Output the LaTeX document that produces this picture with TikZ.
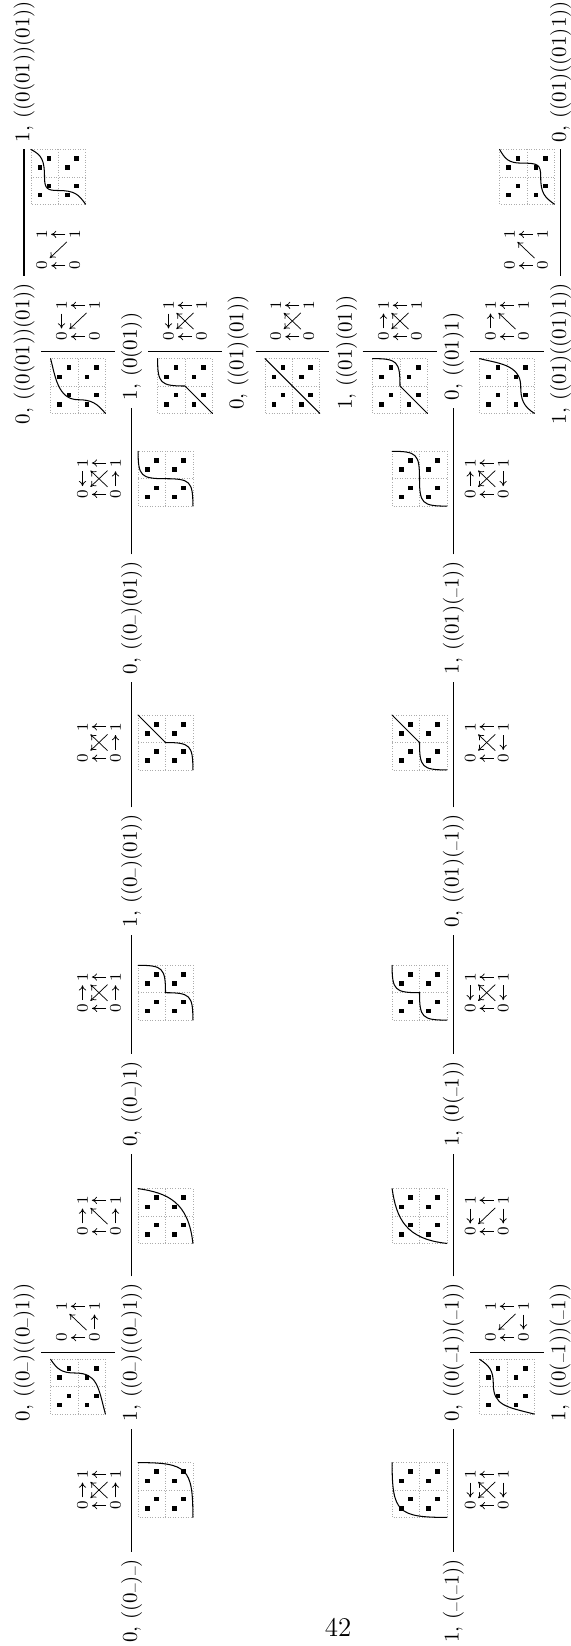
\documentclass[tikz,border=0pt]{standalone}
\usepackage{graphicx}
\usetikzlibrary{arrows.meta}
\tikzset{
  lbl/.style={rotate=90,scale=1.05,inner xsep=3.5pt,inner ysep=0pt,outer sep=0pt},
  mainline/.style={line width=.62pt},
  digit/.style={rotate=90,font=\footnotesize,inner sep=2pt,outer sep=0pt},
  miniarrow/.style={line width=.36pt,-{To[length=2.6pt,width=3.6pt]}},
  diagarrow/.style={miniarrow,shorten <=-.5pt,shorten >=-.5pt},
  griddot/.style={gray!65,line width=.28pt,densely dotted},
  curve/.style={line width=.52pt,line cap=round},
}
\newcommand{\arrU}[2]{\draw[miniarrow] (#2) -- (#1);}
\newcommand{\arrD}[2]{\draw[miniarrow] (#1) -- (#2);}
\newcommand{\arrN}[2]{}
\newcommand{\Mini}[6]{% name cx cy L R diag
  \node[digit] (#1ul) at (#2-16.5,#3-15.7) {1};
  \node[digit] (#1ur) at (#2+16.5,#3-15.7) {1};
  \node[digit] (#1ll) at (#2-16.5,#3+15.7) {0};
  \node[digit] (#1lr) at (#2+16.5,#3+15.7) {0};
  \draw[miniarrow] (#1ur) -- (#1ul);
  \draw[miniarrow] (#1lr) -- (#1ll);
  \csname arr#4\endcsname{#1ul}{#1ll}
  \csname arr#5\endcsname{#1ur}{#1lr}
  \csname dia#6\endcsname{#1}
}
\newcommand{\diaa}[1]{\draw[diagarrow] (#1lr) -- (#1ul);}
\newcommand{\diab}[1]{\draw[diagarrow] (#1ur) -- (#1ll);}
\newcommand{\diax}[1]{\draw[diagarrow] (#1lr) -- (#1ul);\draw[diagarrow] (#1ur) -- (#1ll);}
\newcommand{\dian}[1]{}
\newcommand{\PBox}[3]{% cx cy path
  \begin{scope}[shift={(#1,#2)},x=13.7pt,y=-13.7pt]
    \draw[griddot] (-1,-1) rectangle (1,1);
    \draw[griddot] (0,-1) -- (0,1);
    \draw[griddot] (-1,0) -- (1,0);
    \foreach \a in {-1,0}\foreach \b in {-1,0}{
      \fill ({\a+1/3-.085},{\b+2/3-.085}) rectangle ({\a+1/3+.085},{\b+2/3+.085});
      \fill ({\a+2/3-.085},{\b+1/3-.085}) rectangle ({\a+2/3+.085},{\b+1/3+.085});
    }
  \end{scope}
  \begin{scope}[shift={(#1,#2)},x=27.4pt,y=-27.4pt,shift={(-.5,-.5)}]
    \draw[curve] #3;
  \end{scope}
}
\newcommand{\U}{\mbox{\raisebox{2pt}{\scalebox{.55}[1]{\_}}}}
\newcommand{\cm}{,\,}
\begin{document}
\begin{tikzpicture}[x=.5pt,y=-.5pt]
\useasboundingbox (0,0) rectangle (571,1646);
% ---- labels, left column
\node[lbl] (a0) at (131.7,1601) {$0\cm((0\U)\U)$};
\node[lbl] (a1) at (131.7,1352.5) {$1\cm((0\U)((0\U)1))$};
\node[lbl] (a2) at (131.7,1104) {$0\cm((0\U)1)$};
\node[lbl] (a3) at (131.7,871) {$1\cm((0\U)(01))$};
\node[lbl] (a4) at (131.7,618) {$0\cm((0\U)(01))$};
\node[lbl] (a5) at (131.7,356.5) {$1\cm(0(01))$};
\node[lbl] (a1b) at (24,1352.5) {$0\cm((0\U)((0\U)1))$};
% ---- labels, right column
\node[lbl] (b0) at (453.3,1601) {$1\cm(\U(\U 1))$};
\node[lbl] (b1) at (453.3,1352.5) {$0\cm((0(\U 1))(\U 1))$};
\node[lbl] (b2) at (453.3,1104) {$1\cm(0(\U 1))$};
\node[lbl] (b3) at (453.3,871) {$0\cm((01)(\U 1))$};
\node[lbl] (b4) at (453.3,618) {$1\cm((01)(\U 1))$};
\node[lbl] (b5) at (453.3,356.5) {$0\cm((01)1)$};
\node[lbl] (b1b) at (560,1352.5) {$1\cm((0(\U 1))(\U 1))$};
% ---- labels, top
\node[lbl] (t1) at (24,71.5) {$1\cm((0(01))(01))$};
\node[lbl] (t2) at (24,353.5) {$0\cm((0(01))(01))$};
\node[lbl] (t3) at (238,352.5) {$0\cm((01)(01))$};
\node[lbl] (t4) at (346.7,352.5) {$1\cm((01)(01))$};
\node[lbl] (t5) at (560.5,353.5) {$1\cm((01)((01)1))$};
\node[lbl] (t6) at (560.5,71.5) {$0\cm((01)((01)1))$};
% ---- main lines
\foreach \p/\q in {a0/a1,a1/a2,a2/a3,a3/a4,a4/a5,b0/b1,b1/b2,b2/b3,b3/b4,b4/b5,t1/t2,t6/t5}
  \draw[mainline] (\p) -- (\q);
% ---- bars
\foreach \n/\l/\r/\y in {1/41/115/1352.7,2/470/544/1352.7,3/41/115/351.7,4/148/222/351.7,5/255.7/329.3/351.7,6/362.7/436.7/351.7,7/470/544/351.7}{
  \coordinate (bar\n l) at (\l,\y);
  \coordinate (bar\n r) at (\r,\y);
  \draw[mainline] (bar\n l) -- (bar\n r);
}
% ---- left column boxes and graphs
\PBox{165.5}{1490}{(0,0) .. controls (.9,0) and (1,.1) .. (1,1)}
\Mini{ma}{99}{1490}{U}{U}{x}
\PBox{165.5}{1216}{(0,0) .. controls (.55,.08) and (.92,.25) .. (1,1)}
\Mini{mb}{99}{1216}{U}{U}{a}
\PBox{165.5}{992.7}{(0,0) .. controls (.45,0) and (.5,.05) .. (.5,.5) .. controls (.95,.5) and (1,.55) .. (1,1)}
\Mini{mc}{99}{992.7}{U}{U}{x}
\PBox{165.5}{742.5}{(0,0) -- (.5,.5) .. controls (.95,.5) and (1,.55) .. (1,1)}
\Mini{md}{99}{742.5}{N}{U}{x}
\PBox{165.5}{478.7}{(0,0) .. controls (0,.45) and (.05,.5) .. (.5,.5) .. controls (.95,.5) and (1,.55) .. (1,1)}
\Mini{me}{99}{478.7}{D}{U}{x}
\PBox{78}{1386.7}{(0,0) .. controls (.12,.18) and (.2,.25) .. (.45,.25) .. controls (.85,.25) and (.87,.5) .. (1,1)}
\Mini{mf}{78}{1322}{N}{U}{a}
% ---- right column boxes and graphs
\PBox{419.5}{1490}{(0,0) .. controls (0,.9) and (.1,1) .. (1,1)}
\Mini{na}{486.7}{1490}{D}{D}{x}
\PBox{419.5}{1216}{(0,0) .. controls (.08,.55) and (.25,.92) .. (1,1)}
\Mini{nb}{486.7}{1216}{D}{D}{b}
\PBox{419.5}{992.7}{(0,0) .. controls (0,.45) and (.05,.5) .. (.5,.5) .. controls (.5,.95) and (.55,1) .. (1,1)}
\Mini{nc}{486.7}{992.7}{D}{D}{x}
\PBox{419.5}{742.5}{(0,0) -- (.5,.5) .. controls (.5,.95) and (.55,1) .. (1,1)}
\Mini{nd}{486.7}{742.5}{N}{D}{x}
\PBox{419.5}{478.7}{(0,0) .. controls (.45,0) and (.5,.05) .. (.5,.5) .. controls (.5,.95) and (.55,1) .. (1,1)}
\Mini{ne}{486.7}{478.7}{U}{D}{x}
\PBox{507}{1386.7}{(0,0) .. controls (.18,.12) and (.25,.2) .. (.25,.45) .. controls (.25,.85) and (.5,.87) .. (1,1)}
\Mini{nf}{507}{1322}{N}{D}{b}
% ---- top row
\PBox{58.2}{176.8}{(0,0) .. controls (.2,.1) and (.25,.2) .. (.25,.5) .. controls (.25,.72) and (.3,.75) .. (.5,.75) .. controls (.8,.75) and (.87,.82) .. (1,1)}
\Mini{pa}{58.3}{250}{N}{N}{b}
\PBox{78}{386}{(0,0) .. controls (.08,.3) and (.13,.75) .. (.5,.75) .. controls (.75,.75) and (.85,.82) .. (1,1)}
\Mini{pb}{78}{321}{D}{N}{b}
\PBox{185}{386}{(0,0) .. controls (0,.45) and (.05,.5) .. (.5,.5) -- (1,1)}
\Mini{pc}{185}{321}{D}{N}{x}
\PBox{292.3}{386}{(0,0) -- (1,1)}
\Mini{pd}{292.3}{321}{N}{N}{x}
\PBox{400}{386}{(0,0) .. controls (.45,0) and (.5,.05) .. (.5,.5) -- (1,1)}
\Mini{pe}{400}{321}{U}{N}{x}
\PBox{507}{386}{(0,0) .. controls (.3,.08) and (.75,.1) .. (.75,.5) .. controls (.75,.75) and (.8,.87) .. (1,1)}
\Mini{pf}{507}{321}{U}{N}{a}
\PBox{527}{176.8}{(0,0) .. controls (.1,.18) and (.17,.25) .. (.4,.25) .. controls (.7,.25) and (.75,.27) .. (.75,.5) .. controls (.75,.8) and (.82,.87) .. (1,1)}
\Mini{pg}{526}{250}{N}{N}{a}
% ---- page number
\node[inner sep=0pt] (page) at (338,1627) {\fontsize{13.5}{15}\selectfont 42};
\end{tikzpicture}
\end{document}
